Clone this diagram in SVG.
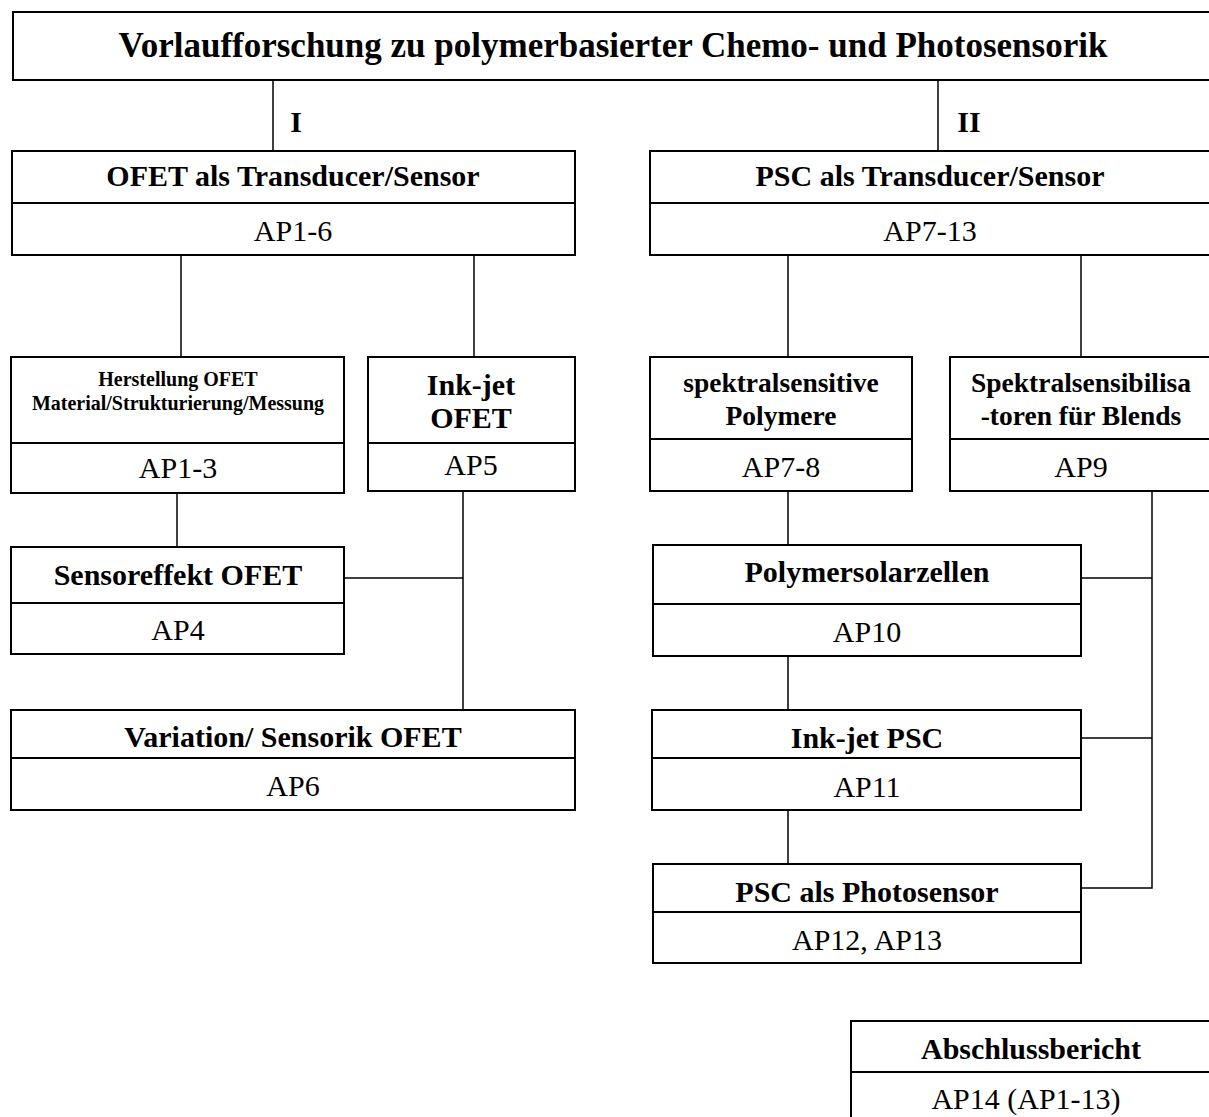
<svg xmlns="http://www.w3.org/2000/svg" width="1209" height="1117" viewBox="0 0 1209 1117">
<style>
.box{fill:#fff;stroke:#000;stroke-width:2}
.div{stroke:#000;stroke-width:2}
.con{stroke:#000;stroke-width:1.5;fill:none}
.h{font-family:"Liberation Serif","Times New Roman",serif;font-weight:bold;font-size:30px;text-anchor:middle}
.t{font-family:"Liberation Serif","Times New Roman",serif;font-weight:bold;font-size:35px;text-anchor:middle}
.s{font-family:"Liberation Serif","Times New Roman",serif;font-weight:bold;font-size:27.5px;text-anchor:middle}
.ap{font-family:"Liberation Serif","Times New Roman",serif;font-size:30px;text-anchor:middle}
.sm{font-family:"Liberation Serif","Times New Roman",serif;font-weight:bold;font-size:20px;text-anchor:middle}
</style>
<rect width="1209" height="1117" fill="#fff"/>
<g id="connectors">
<line class="con" x1="273" y1="80" x2="273" y2="152"/>
<line class="con" x1="938" y1="80" x2="938" y2="152"/>
<line class="con" x1="181" y1="255" x2="181" y2="357"/>
<line class="con" x1="474" y1="255" x2="474" y2="357"/>
<line class="con" x1="177" y1="493" x2="177" y2="547"/>
<line class="con" x1="463" y1="491" x2="463" y2="710"/>
<line class="con" x1="344" y1="578" x2="463" y2="578"/>
<line class="con" x1="788" y1="255" x2="788" y2="357"/>
<line class="con" x1="1081" y1="255" x2="1081" y2="357"/>
<line class="con" x1="788" y1="491" x2="788" y2="545"/>
<line class="con" x1="788" y1="656" x2="788" y2="710"/>
<line class="con" x1="788" y1="810" x2="788" y2="864"/>
<polyline class="con" points="1152,491 1152,888 1081,888"/>
<line class="con" x1="1081" y1="578" x2="1152" y2="578"/>
<line class="con" x1="1081" y1="738" x2="1152" y2="738"/>
</g>
<g id="title">
<rect class="box" x="13" y="12" width="1210" height="68"/>
<text class="t" x="613" y="57">Vorlaufforschung zu polymerbasierter Chemo- und Photosensorik</text>
</g>
<g id="label-I"><text class="h" x="296" y="132">I</text></g>
<g id="label-II"><text class="h" x="969" y="132">II</text></g>
<g id="ofet">
<rect class="box" x="12" y="151" width="563" height="104"/>
<line class="div" x1="12" y1="203" x2="575" y2="203"/>
<text class="h" x="293" y="186">OFET als Transducer/Sensor</text>
<text class="ap" x="293" y="241">AP1-6</text>
</g>
<g id="psc">
<rect class="box" x="650" y="151" width="572" height="104"/>
<line class="div" x1="650" y1="203" x2="1222" y2="203"/>
<text class="h" x="930" y="186">PSC als Transducer/Sensor</text>
<text class="ap" x="930" y="241">AP7-13</text>
</g>
<g id="herstellung">
<rect class="box" x="11" y="357" width="333" height="136"/>
<line class="div" x1="11" y1="443" x2="344" y2="443"/>
<text class="sm" x="178" y="386">Herstellung OFET</text>
<text class="sm" x="178" y="410">Material/Strukturierung/Messung</text>
<text class="ap" x="178" y="478">AP1-3</text>
</g>
<g id="inkjet-ofet">
<rect class="box" x="368" y="357" width="207" height="134"/>
<line class="div" x1="368" y1="443" x2="575" y2="443"/>
<text class="h" x="471" y="395">Ink-jet</text>
<text class="h" x="471" y="428">OFET</text>
<text class="ap" x="471" y="475">AP5</text>
</g>
<g id="sensoreffekt">
<rect class="box" x="11" y="547" width="333" height="107"/>
<line class="div" x1="11" y1="603" x2="344" y2="603"/>
<text class="h" x="178" y="585">Sensoreffekt OFET</text>
<text class="ap" x="178" y="640">AP4</text>
</g>
<g id="variation">
<rect class="box" x="11" y="710" width="564" height="100"/>
<line class="div" x1="11" y1="758" x2="575" y2="758"/>
<text class="h" x="293" y="747">Variation/ Sensorik OFET</text>
<text class="ap" x="293" y="796">AP6</text>
</g>
<g id="spektralsensitive">
<rect class="box" x="650" y="357" width="262" height="134"/>
<line class="div" x1="650" y1="439" x2="912" y2="439"/>
<text class="s" x="781" y="392">spektralsensitive</text>
<text class="s" x="781" y="425">Polymere</text>
<text class="ap" x="781" y="477">AP7-8</text>
</g>
<g id="spektralsensibilisatoren">
<rect class="box" x="950" y="357" width="272" height="134"/>
<line class="div" x1="950" y1="439" x2="1222" y2="439"/>
<text class="s" x="1081" y="392">Spektralsensibilisa</text>
<text class="s" x="1081" y="425">-toren für Blends</text>
<text class="ap" x="1081" y="477">AP9</text>
</g>
<g id="polymersolarzellen">
<rect class="box" x="653" y="545" width="428" height="111"/>
<line class="div" x1="653" y1="604" x2="1081" y2="604"/>
<text class="h" x="867" y="582">Polymersolarzellen</text>
<text class="ap" x="867" y="642">AP10</text>
</g>
<g id="inkjet-psc">
<rect class="box" x="652" y="710" width="429" height="100"/>
<line class="div" x1="652" y1="758" x2="1081" y2="758"/>
<text class="h" x="867" y="748">Ink-jet PSC</text>
<text class="ap" x="867" y="797">AP11</text>
</g>
<g id="psc-photosensor">
<rect class="box" x="653" y="864" width="428" height="99"/>
<line class="div" x1="653" y1="912" x2="1081" y2="912"/>
<text class="h" x="867" y="902">PSC als Photosensor</text>
<text class="ap" x="867" y="950">AP12, AP13</text>
</g>
<g id="abschlussbericht">
<rect class="box" x="851" y="1021" width="371" height="110"/>
<line class="div" x1="851" y1="1072" x2="1222" y2="1072"/>
<text class="h" x="1031" y="1059">Abschlussbericht</text>
<text class="ap" x="1026" y="1109">AP14 (AP1-13)</text>
</g>
</svg>
